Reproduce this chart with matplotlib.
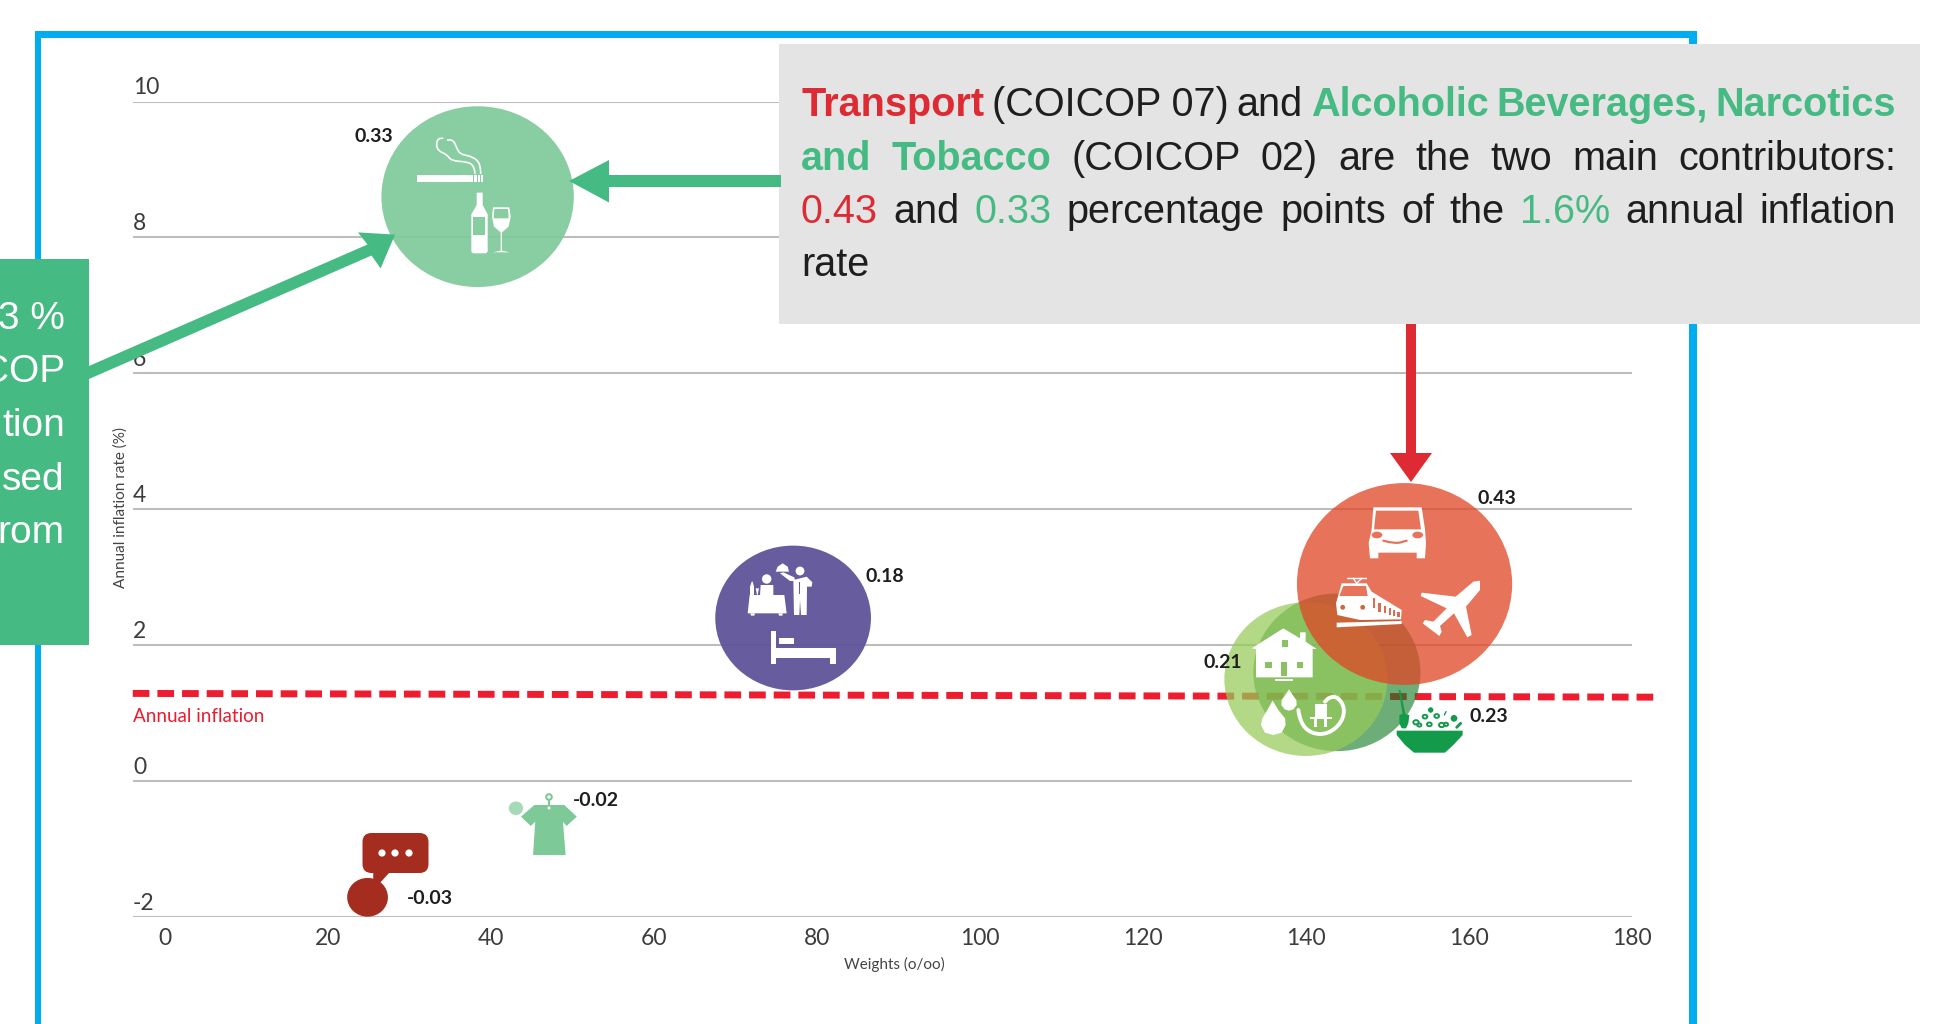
import matplotlib
matplotlib.use("Agg")
import matplotlib.pyplot as plt
from matplotlib.patches import Ellipse, Rectangle, Polygon, Circle, FancyBboxPatch, PathPatch
from matplotlib.path import Path

# datos
weights = [38.4, 152.1, 77.1, 140.0, 143.8, 43.1, 24.9]
rates = [8.6, 2.9, 2.4, 1.5, 1.6, -0.4, -1.71]
bubble_w = [23.6, 26.4, 19.1, 20.0, 20.5, 1.75, 5.0]
bubble_h = [2.66, 2.97, 2.13, 2.26, 2.32, 0.2, 0.57]
contrib = ["0.33", "0.43", "0.18", "0.21", "0.23", "-0.02", "-0.03"]
inflation_x = [-3.9, 182.6]
inflation_y = [1.29, 1.235]
x_ticks = [0, 20, 40, 60, 80, 100, 120, 140, 160, 180]
y_ticks = [-2, 0, 2, 4, 6, 8, 10]

GREEN = "#45BA82"
RED = "#DE2A32"
DARK = "#1E1E1E"
W, H = 1939, 1024

fig = plt.figure(figsize=(W / 100, H / 100), dpi=100, facecolor="white")
plt.rcParams["font.family"] = ["Lato", "DejaVu Sans"]

# eje del grafico: x 0-180 en 164.7-1632 px, y -2..10 en 917-101.5 px
left = 133
right = 1632
ax = fig.add_axes([left / W, 1 - 917 / H, (right - left) / W, (917 - 101.5) / H])
ax.set_xlim(-3.87, 180)
ax.set_ylim(-2, 10)
for s in ax.spines.values():
    s.set_visible(False)
ax.set_yticks(y_ticks)
ax.set_yticklabels([])
ax.set_xticks(x_ticks)
ax.tick_params(length=0)
ax.tick_params(axis="x", labelsize=16.5, labelcolor="#3c3c3c", pad=8)
ax.grid(axis="y", color="#BDBDBD", lw=1.5)
ax.grid(axis="x", visible=False)
ax.set_axisbelow(True)
for y in y_ticks:
    ax.text(-3.87, y + 0.2, str(y), fontsize=16.5, color="#3c3c3c", va="center", ha="left")

ax.plot(inflation_x, inflation_y, color="#ED1C2E", lw=5, linestyle=(0, (2.4, 1.15)),
        dash_capstyle="butt", clip_on=False, zorder=2)
ax.text(-3.87, 0.95, "Annual inflation", color="#ED1C2E", fontsize=13.6, va="center")

# burbujas (color, alpha, orden)
styles = [("#7FC99A", 0.92, 3), ("#E04727", 0.76, 6), ("#5F5399", 0.95, 3),
          ("#97CA59", 0.73, 5), ("#147C25", 0.62, 4), ("#A6D9B5", 1, 3), ("#A52D20", 1, 3)]
for i in range(len(weights)):
    c, a, z = styles[i]
    ax.add_patch(Ellipse((weights[i], rates[i]), bubble_w[i], bubble_h[i], fc=c, ec="none", alpha=a, zorder=z))

fig.text(894 / W, 1 - 964 / H, "Weights (o/oo)", fontsize=11, color="#444444", ha="center", va="center")
fig.text(121 / W, 1 - 508 / H, "Annual inflation rate (%)", rotation=90, fontsize=11,
         color="#444444", ha="center", va="center")

# capa en pixeles para recuadros, flechas e iconos
ov = fig.add_axes([0, 0, 1, 1], facecolor="none")
ov.set_xlim(0, W)
ov.set_ylim(H, 0)
ov.axis("off")

# marco azul
for x0, y0, x1, y1 in [(35, 31, 1697, 38), (35, 31, 41, H), (1689, 31, 1697, H)]:
    ov.add_patch(Rectangle((x0, y0), x1 - x0, y1 - y0, fc="#00AEEF", ec="none", zorder=1))

# recuadros
ov.add_patch(Rectangle((779, 44), 1141, 280, fc="#E4E4E4", ec="none", zorder=2))
ov.add_patch(Rectangle((0, 259), 89, 386, fc=GREEN, ec="none", zorder=2))
for line, y in zip(["3 %", "COP", "tion", "sed", "rom"], [319, 372, 426, 480, 533]):
    ov.text(65, y, line, color="white", fontsize=28, ha="right", va="center", family="Liberation Sans", zorder=3)

# flechas
ov.add_patch(Polygon([(781, 175), (609, 175), (609, 160), (569, 181), (609, 202.5), (609, 187), (781, 187)],
                     fc=GREEN, ec="none", zorder=3))
ov.add_patch(Polygon([(89, 366), (367.5, 244.5), (358, 232.4), (395, 234.6), (380.6, 268.4), (371.5, 255.5), (89, 379)],
                     fc=GREEN, ec="none", zorder=3))
ov.add_patch(Polygon([(1406, 324), (1416, 324), (1416, 453), (1432, 453), (1411, 482), (1390, 453), (1406, 453)],
                     fc=RED, ec="none", zorder=3))

# texto justificado del recuadro gris
lines = [
    ([("Transport", RED, "bold"), ("(COICOP 07)", DARK, "normal"), ("and", DARK, "normal"),
      ("Alcoholic", GREEN, "bold"), ("Beverages,", GREEN, "bold"), ("Narcotics", GREEN, "bold")], 101),
    ([("and", GREEN, "bold"), ("Tobacco", GREEN, "bold"), ("(COICOP", DARK, "normal"), ("02)", DARK, "normal"),
      ("are", DARK, "normal"), ("the", DARK, "normal"), ("two", DARK, "normal"),
      ("main", DARK, "normal"), ("contributors:", DARK, "normal")], 155),
    ([("0.43", RED, "normal"), ("and", DARK, "normal"), ("0.33", GREEN, "normal"),
      ("percentage", DARK, "normal"), ("points", DARK, "normal"), ("of", DARK, "normal"),
      ("the", DARK, "normal"), ("1.6%", GREEN, "normal"), ("annual", DARK, "normal"),
      ("inflation", DARK, "normal")], 208),
    ([("rate", DARK, "normal")], 261),
]
fig.canvas.draw()
rend = fig.canvas.get_renderer()
for words, y in lines:
    items = [ov.text(0, y, w, color=c, fontweight=b, fontsize=28.5, family="Liberation Sans",
                     va="center_baseline", ha="left", zorder=4) for w, c, b in words]
    sizes = [t.get_window_extent(rend).width for t in items]
    gap = (1896 - 801 - sum(sizes)) / max(len(items) - 1, 1) if len(items) > 1 else 0
    x = 801
    for t, s in zip(items, sizes):
        t.set_x(x)
        x += s + gap

# etiquetas de contribucion
label_pos = [(393, 137, "right"), (1477, 499, "left"), (866, 576, "left"), (1204, 662, "left"),
             (1469, 716, "left"), (573, 800, "left"), (407, 898, "left")]
for (x, y, ha), lab in zip(label_pos, contrib):
    ov.text(x, y, lab, fontsize=14, fontweight="bold", color=DARK, ha=ha, va="center", zorder=6)


# iconos
def poly(pts, color="white", z=7):
    ov.add_patch(Polygon(pts, closed=True, fc=color, ec="none", zorder=z))


def rect(x, y, w, h, color="white", z=7):
    ov.add_patch(Rectangle((x, y), w, h, fc=color, ec="none", zorder=z))


def circ(x, y, r, color="white", z=7):
    ov.add_patch(Circle((x, y), r, fc=color, ec="none", zorder=z))


def curve(pts, color="white", lw=1.2, z=7):
    # linea suave que pasa por los puntos medios
    verts = [pts[0]]
    codes = [Path.MOVETO]
    for a, b in zip(pts[1:-1], pts[2:]):
        verts += [a, ((a[0] + b[0]) / 2, (a[1] + b[1]) / 2)]
        codes += [Path.CURVE3, Path.CURVE3]
    verts.append(pts[-1])
    codes.append(Path.LINETO)
    ov.add_patch(PathPatch(Path(verts, codes), fc="none", ec=color, lw=lw, capstyle="round", zorder=z))


def crop(x0, y0, sx, sy=None):
    # pasa puntos medidos sobre un recorte a pixeles de la figura
    sy = sy or sx
    return lambda pts: [(x0 + x / sx, y0 + y / sy) for x, y in pts]


# cigarrillo y botella
c6 = crop(410, 125, 3)
poly(c6([(22, 150), (190, 150), (190, 172), (22, 172)]))
for a, b in [(193, 200), (205, 210), (213, 219)]:
    poly(c6([(a, 150), (b, 150), (b, 172), (a, 172)]))
curve(c6([(212, 145), (212, 118), (190, 95), (150, 88), (140, 68), (130, 45), (113, 45)]))
curve(c6([(195, 145), (193, 122), (170, 110), (125, 108), (110, 88), (85, 78), (78, 58), (85, 40), (98, 40)]))
poly(c6([(200, 203), (218, 203), (218, 240), (233, 268), (233, 380), (228, 385), (189, 385), (184, 380), (184, 268), (200, 240)]))
poly(c6([(190, 275), (226, 275), (226, 330), (190, 330)]), "#88CDA0", 8)
poly(c6([(249, 247), (298, 247), (302, 275), (296, 305), (276, 322), (276, 377), (300, 382), (248, 382), (272, 377), (272, 322), (252, 305), (246, 275)]))
poly(c6([(253, 252), (294, 252), (296, 280), (251, 280)]), "#88CDA0", 8)

# restaurante y cama
c5 = crop(715, 545, 3)
circ(766.7, 579, 4.7)
poly(c5([(135, 150), (137, 120), (175, 120), (175, 150)]))
poly(c5([(104, 150), (98, 205), (215, 205), (208, 150)]))
poly(c5([(106, 205), (120, 205), (118, 212), (108, 212)]))
poly(c5([(190, 205), (204, 205), (202, 212), (192, 212)]))
poly(c5([(105, 150), (105, 125), (110, 110), (113, 110), (117, 125), (117, 150)]))
poly(c5([(122, 130), (132, 130), (128, 150), (126, 150)]))
circ(800, 571, 4.4)
poly(c5([(235, 105), (275, 95), (292, 112), (290, 125), (276, 125), (275, 210), (258, 210), (255, 165), (253, 210), (237, 210)]))
poly(c5([(195, 85), (205, 82), (238, 97), (240, 108), (225, 108)]))
poly(c5([(182, 80), (222, 80), (218, 65), (203, 55), (188, 65)]))
poly(c5([(252, 112), (256, 112), (256, 148), (252, 148)]), "#655A9F", 8)
poly(c5([(167, 257), (184, 257), (184, 358), (167, 358)]))
poly(c5([(184, 308), (363, 308), (363, 358), (345, 358), (345, 340), (184, 340)]))
poly(c5([(193, 278), (238, 278), (238, 296), (193, 296)]))

# coche
c7 = crop(1250, 500, 3)
poly(c7([(370, 22), (515, 22), (525, 88), (528, 130), (525, 175), (500, 175), (500, 158), (385, 158), (385, 175), (360, 175), (356, 130), (365, 88)]))
poly(c7([(378, 32), (505, 32), (513, 88), (372, 88)]), "#E7735B", 8)
ov.add_patch(Ellipse((1377, 535), 10.7, 6.7, fc="#E7735B", ec="none", zorder=8))
ov.add_patch(Ellipse((1417.7, 535), 10.7, 6.7, fc="#E7735B", ec="none", zorder=8))
curve(c7([(400, 122), (435, 132), (470, 122)]), "#E7735B", 1.6, 8)

# tren
poly(c7([(275, 250), (350, 250), (365, 275), (455, 330), (453, 358), (330, 360), (262, 345), (258, 310)]))
poly(c7([(280, 258), (348, 258), (353, 288), (268, 288)]), "#E7735B", 8)
circ(1342.7, 607.3, 2.4, "#C96B3D", 8)
circ(1362.7, 607.3, 2.4, "#C96B3D", 8)
for x, y0, y1 in [(372, 295, 325), (388, 310, 335), (405, 318, 340), (420, 325, 345), (432, 330, 348), (445, 335, 350)]:
    poly(c7([(x - 4, y0), (x + 4, y0), (x + 4, y1), (x - 4, y1)]), "#D96D50", 8)
poly(c7([(260, 368), (455, 363), (455, 372), (260, 382)]))
curve(c7([(290, 235), (348, 235)]), "white", 1)
ov.plot(*zip(*c7([(310, 235), (320, 250), (335, 235)])), color="white", lw=1, zorder=7)

# avion
poly(c7([(690, 242), (670, 245), (617, 290), (515, 278), (512, 288), (590, 325), (550, 365), (525, 360), (518, 370),
         (568, 408), (575, 395), (570, 378), (612, 340), (652, 412), (665, 405), (648, 320), (690, 270)]))

# casa
poly(c7([(5, 445), (100, 385), (150, 415), (150, 397), (167, 397), (167, 425), (200, 447), (188, 447), (188, 532), (18, 532), (18, 447)]))
for x0, y0, x1, y1 in [(95, 420, 115, 440), (45, 485, 65, 505), (140, 485, 160, 505), (93, 485, 112, 527)]:
    poly(c7([(x0, y0), (x1, y0), (x1, y1), (x0, y1)]), "#8BC162", 8)
poly(c7([(75, 538), (130, 538), (130, 544), (75, 544)]))

# gotas y enchufe
poly(c7([(68, 602), (85, 630), (105, 655), (107, 675), (95, 698), (70, 705), (45, 698), (33, 675), (37, 655), (52, 630)]))
poly(c7([(117, 568), (128, 585), (139, 600), (140, 615), (130, 628), (117, 632), (104, 628), (94, 615), (95, 600), (106, 585)]))
curve(c7([(145, 630), (150, 668), (185, 702), (235, 702), (275, 668), (285, 625), (265, 592), (240, 590), (225, 605)]), "white", 2.8)
poly(c7([(195, 612), (232, 612), (232, 650), (247, 650), (247, 657), (230, 657), (230, 682), (222, 682), (222, 657), (201, 657), (201, 682), (193, 682), (193, 657), (180, 657), (180, 650), (195, 650)]))

# ensalada
c8 = crop(1390, 690, 3)
SALAD = "#149A4B"
poly(c8([(20, 122), (218, 122), (218, 135), (190, 165), (165, 188), (72, 188), (45, 165), (20, 135)]), SALAD)
poly(c8([(26, 0), (31, 0), (46, 72), (58, 75), (55, 100), (48, 115), (35, 115), (28, 100), (28, 75), (38, 72)]), SALAD)
for x, y, r in [(122, 60, 8), (192, 85, 10)]:
    poly(c8([(x - r, y), (x, y - r), (x + r, y), (x, y + r)]), SALAD)
    circ(1390 + x / 3, 690 + y / 3, r / 3, SALAD)
for x, y, r in [(140, 78, 7), (105, 80, 7), (118, 103, 7), (78, 97, 8), (155, 105, 8), (168, 103, 6), (88, 105, 6)]:
    ov.add_patch(Ellipse((1390 + x / 3, 690 + y / 3), r * 2 / 3, r * 1.6 / 3, fc="none", ec=SALAD, lw=1.4, zorder=7))
curve(c8([(200, 112), (212, 100)]), SALAD, 2)
curve(c8([(163, 75), (168, 65)]), SALAD, 1)

# camiseta
c3 = crop(100, 680, 2.24, 3)
SHIRT = "#7DC997"
poly(c3([(943, 410), (973, 375), (1040, 375), (1068, 410), (1045, 438), (1037, 425), (1043, 525), (970, 525), (975, 425), (965, 438)]), SHIRT)
ov.add_patch(Circle((549, 797), 2.8, fc="none", ec=SHIRT, lw=1.5, zorder=7))
ov.plot([549, 549], [800, 806], color=SHIRT, lw=1.5, zorder=7)
circ(549, 808, 1.5)

# comunicaciones
ov.add_patch(FancyBboxPatch((362.5, 833), 66, 40, boxstyle="round,pad=0,rounding_size=9", fc="#A52D20", ec="none", zorder=7, mutation_scale=1))
poly(c3([(612, 575), (650, 575), (625, 612), (612, 612)]), "#A52D20")
for x in [382, 395, 409]:
    circ(x, 853, 3.6)

fig.savefig("out.png", dpi=100)
